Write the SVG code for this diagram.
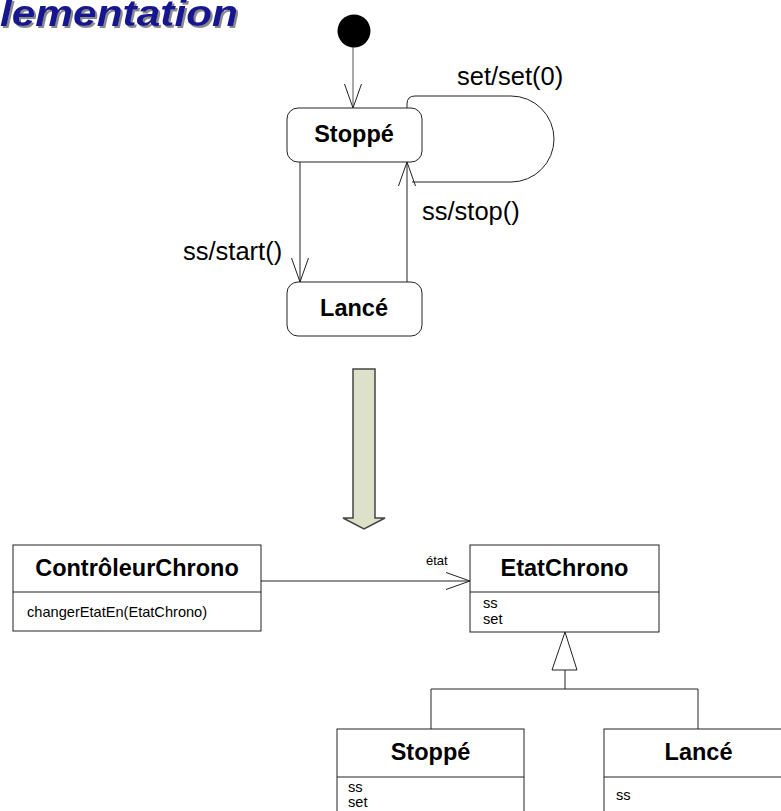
<svg xmlns="http://www.w3.org/2000/svg" width="781" height="811" viewBox="0 0 781 811">
<defs>
<style>
.box{fill:#fff;stroke:#222;stroke-width:1}
.ln{fill:none;stroke:#222;stroke-width:1}
.t{font-family:"Liberation Sans",Arial,sans-serif;fill:#000}
.lbl{font-size:25.5px}
.st{font-size:23.5px;font-weight:bold;text-anchor:middle}
.sm{font-size:14.6px}
</style>
<filter id="shadow" x="-5%" y="-20%" width="115%" height="150%">
<feDropShadow dx="2" dy="2" stdDeviation="0.6" flood-color="#8a8a8a" flood-opacity="1"/>
</filter>
<marker id="open" markerWidth="26" markerHeight="20" refX="24" refY="10" orient="auto" markerUnits="userSpaceOnUse">
<path d="M0,1.5 L24,10 L0,18.5" fill="none" stroke="#222" stroke-width="1"/>
</marker>
</defs>
<rect width="781" height="811" fill="#fff"/>
<g id="title">
<text x="0" y="26" class="t" font-size="36" font-weight="bold" font-style="italic" style="fill:#161690" filter="url(#shadow)" textLength="238" lengthAdjust="spacingAndGlyphs">lementation</text>
</g>
<g id="connectors">
<line x1="353" y1="46" x2="353" y2="108" stroke="#555" stroke-width="1" marker-end="url(#open)"/>
<path class="ln" d="M407,108 V104 Q407,96 415,96 H511 A43,43 0 0 1 511,182 H412"/>
<line class="ln" x1="300" y1="162" x2="300" y2="282" marker-end="url(#open)"/>
<line class="ln" x1="407" y1="282" x2="407" y2="162" marker-end="url(#open)"/>
<line class="ln" x1="261" y1="581" x2="470" y2="581" marker-end="url(#open)"/>
<path class="ln" d="M565,632 L552,670 H577 Z"/>
<path class="ln" d="M565,670 V689 M431,729 V689 H698 V729"/>
</g>
<g id="labels">
<text class="t lbl" x="457" y="85">set/set(0)</text>
<text class="t lbl" x="422" y="220">ss/stop()</text>
<text class="t lbl" x="183" y="260">ss/start()</text>
<text class="t" x="426" y="565" font-size="13">état</text>
</g>
<g id="initial"><circle cx="354" cy="31" r="16.5" fill="#000"/></g>
<g id="state-stoppe">
<rect class="box" x="287" y="108" width="135" height="54" rx="11"/>
<text class="t st" x="354" y="142">Stoppé</text>
</g>
<g id="state-lance">
<rect class="box" x="287" y="282" width="135" height="54" rx="11"/>
<text class="t st" x="354" y="316">Lancé</text>
</g>
<g id="transform-arrow">
<path d="M353,369 H375 V518 H385 L364,529 L343,518 H353 Z" fill="#dde1c9" stroke="#444" stroke-width="1.5"/>
</g>
<g id="class-controleur">
<rect class="box" x="13" y="545" width="248" height="86"/>
<line class="ln" x1="13" y1="592" x2="261" y2="592"/>
<text class="t st" x="137" y="576">ContrôleurChrono</text>
<text class="t sm" x="27" y="617">changerEtatEn(EtatChrono)</text>
</g>
<g id="class-etat">
<rect class="box" x="470" y="545" width="189" height="87"/>
<line class="ln" x1="470" y1="592" x2="659" y2="592"/>
<text class="t st" x="564.5" y="576">EtatChrono</text>
<text class="t sm" x="483" y="608">ss</text>
<text class="t sm" x="483" y="624">set</text>
</g>
<g id="class-stoppe">
<rect class="box" x="337" y="729" width="187" height="100"/>
<line class="ln" x1="337" y1="777" x2="524" y2="777"/>
<text class="t st" x="430.5" y="760">Stoppé</text>
<text class="t sm" x="348" y="792">ss</text>
<text class="t sm" x="348" y="807">set</text>
</g>
<g id="class-lance">
<rect class="box" x="604" y="729" width="189" height="100"/>
<line class="ln" x1="604" y1="777" x2="793" y2="777"/>
<text class="t st" x="698.5" y="760">Lancé</text>
<text class="t sm" x="616" y="800">ss</text>
</g>
</svg>
